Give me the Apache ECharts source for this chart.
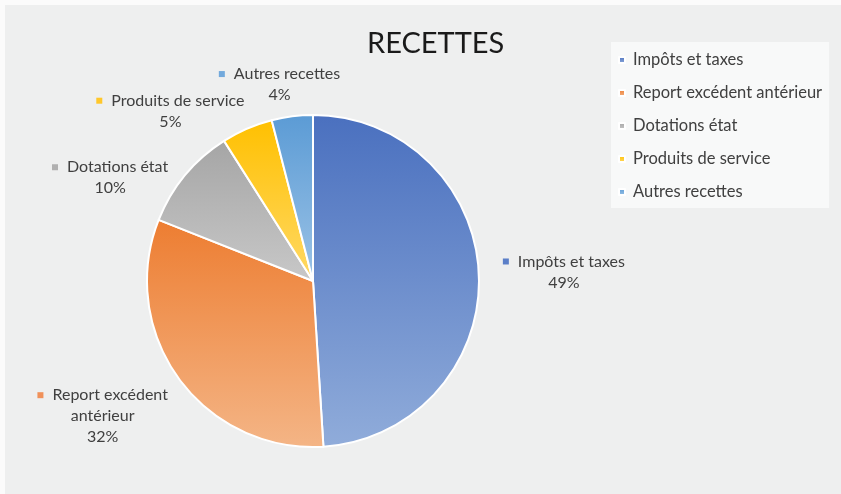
<!DOCTYPE html>
<html><head><meta charset="utf-8">
<script src="https://cdn.jsdelivr.net/npm/echarts@6/dist/echarts.min.js"></script>
<style>html,body{margin:0;padding:0;background:#fbfbfb}#c{width:841px;height:494px}</style>
</head><body><div id="c"></div>
<script>
const categories = ['Impôts et taxes', 'Report excédent antérieur', 'Dotations état', 'Produits de service', 'Autres recettes'];
const values = [49, 32, 10, 5, 4];
const labelNames = ['Impôts et taxes', 'Report excédent\nantérieur', 'Dotations état', 'Produits de service', 'Autres recettes'];

const topColors = ['#4a70bf', '#ed7d31', '#a5a5a5', '#ffc000', '#5b9bd5'];
const bottomColors = ['#90acda', '#f4b586', '#c8c8c8', '#ffd966', '#9cc3e6'];
const markerColors = ['#5b7fc8', '#f0915a', '#b0b0b0', '#ffc72a', '#72a9dc'];
// label line [length, length2] per slice, used only to place labels
const labelLines = [[121, -102], [64, -46], [-4, 15], [19, -10], [32, -57]];

const FONT = 'Lato';
const rich = { n: { fontFamily: FONT, fontSize: 16, color: '#404040', align: 'center', lineHeight: 21 } };
markerColors.forEach((c, i) => {
  rich['m' + i] = { width: 6, height: 6, backgroundColor: c, align: 'center' };
  rich['g' + i] = { width: 9, align: 'center' };
});

const data = categories.map((name, i) => ({
  name: name,
  value: values[i],
  itemStyle: {
    color: new echarts.graphic.LinearGradient(0, 0, 0, 1, [
      { offset: 0, color: topColors[i] },
      { offset: 1, color: bottomColors[i] }
    ])
  },
  labelLine: { show: false, length: labelLines[i][0], length2: labelLines[i][1] },
  label: {
    formatter: function (p) {
      const lines = labelNames[i].split('\n');
      let s = '{m' + i + '|}{g' + i + '|}{n|' + lines[0] + '}';
      for (let k = 1; k < lines.length; k++) s += '\n{n|' + lines[k] + '}';
      s += '\n{n|' + Math.round(p.percent) + '%}';
      return s;
    }
  }
}));

const chart = echarts.init(document.getElementById('c'));
chart.setOption({
  backgroundColor: '#fbfbfb',
  animation: false,
  graphic: [{
    type: 'rect', z: -10, silent: true,
    shape: { x: 5, y: 5, width: 836, height: 489 },
    style: { fill: '#eeefef' }
  }],
  title: {
    text: 'RECETTES', left: 362, top: 24,
    textStyle: { fontFamily: FONT, fontSize: 29, fontWeight: 'normal', color: '#1a1a1a' }
  },
  legend: {
    orient: 'vertical', left: 611, top: 42,
    padding: [8, 7, 6, 7],
    backgroundColor: '#f8f9f9',
    itemWidth: 6, itemHeight: 6, itemGap: 13,
    icon: 'rect',
    data: categories,
    textStyle: { fontFamily: FONT, fontSize: 16.5, color: '#404040', lineHeight: 20, padding: [0, 0, 0, 3] }
  },
  series: [{
    type: 'pie',
    center: [313, 281],
    radius: 166,
    startAngle: 90,
    clockwise: true,
    avoidLabelOverlap: false,
    labelLayout: { hideOverlap: false },
    itemStyle: { borderColor: '#ffffff', borderWidth: 2 },
    label: { show: true, position: 'outside', rich: rich, distanceToLabelLine: 5 },
    emphasis: { disabled: true },
    data: data
  }]
});
</script></body></html>
